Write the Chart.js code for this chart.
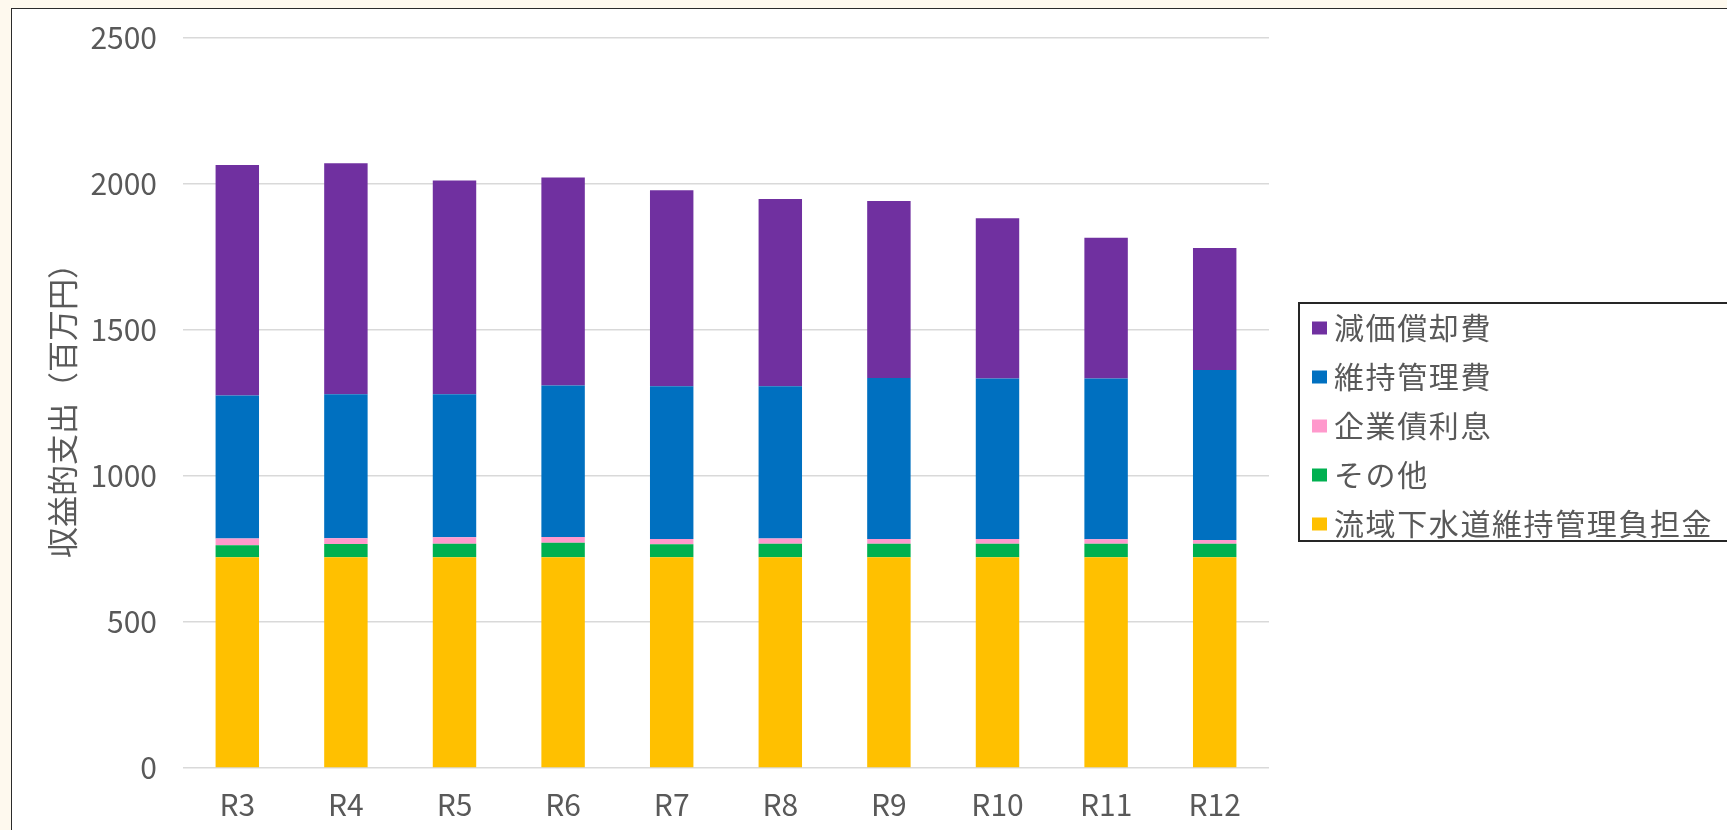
<!DOCTYPE html>
<html><head><meta charset="utf-8">
<script src="https://cdn.jsdelivr.net/npm/chart.js@4/dist/chart.umd.min.js"></script>
<style>
html,body{margin:0;padding:0;background:#FEF9EE;width:1727px;height:830px;overflow:hidden;}
#frame{position:absolute;left:11px;top:8px;width:1780px;height:900px;background:#fff;border:1.5px solid #2b2b2b;}
#c{position:absolute;left:0;top:0;}
</style></head><body>
<div id="frame"></div>
<canvas id="c" width="1727" height="830"></canvas>
<script>
const categories = ['R3','R4','R5','R6','R7','R8','R9','R10','R11','R12'];
const ryuikiFutan = [722,722,722,722,722,722,722,722,722,722];   // 流域下水道維持管理負担金
const sonota      = [41,45,46,49,44,46,46,46,46,46];             // その他
const kigyosaiRisoku = [23,20,22,20,18,18,16,16,15,13];          // 企業債利息
const ijiKanri    = [490,493,490,519,523,521,552,550,551,582];   // 維持管理費
const genkaShokyaku = [789,791,732,712,672,642,606,549,482,418]; // 減価償却費
const yTicks = [0,500,1000,1500,2000,2500];
const yTickLabels = ['0','500','1000','1500','2000','2500'];

const FONT = '"Noto Sans CJK JP", "Noto Sans", sans-serif';
const TXT = '#595959';

const legendTweak = {
  id: 'legendTweak',
  beforeLayout(chart) {
    const lg = chart.legend;
    if (lg && !lg._tw) {
      lg._tw = true;
      const fit0 = lg.fit;
      lg.fit = function () { fit0.call(this); this.width = 458; };
      const draw0 = lg.draw;
      lg.draw = function (a) {
        const ctx = this.ctx;
        ctx.save(); ctx.letterSpacing = '1.6px';
        const ft = ctx.fillText;
        ctx.fillText = function (t, x, y, m) { return m === undefined ? ft.call(ctx, t, x - 8, y) : ft.call(ctx, t, x - 8, y, m); };
        try { draw0.call(this, a); } finally { ctx.fillText = ft; ctx.restore(); }
      };
    }
  },
  afterLayout(chart) {
    const lg = chart.legend;
    lg.left += 24; lg.right += 24;
    lg.top = 280; lg.bottom = 572;
  },
  afterDraw(chart) {
    const lg = chart.legend, ctx = chart.ctx;
    ctx.save();
    ctx.strokeStyle = '#262626';
    ctx.lineWidth = 2;
    ctx.strokeRect(lg.left + 6, 303, 600, 238);
    ctx.restore();
  }
};

function draw() {
  Chart.defaults.font.family = FONT;
  Chart.defaults.color = TXT;
  new Chart(document.getElementById('c'), {
    type: 'bar',
    data: {
      labels: categories,
      datasets: [
        { label: '流域下水道維持管理負担金', data: ryuikiFutan, backgroundColor: '#FFC000' },
        { label: 'その他', data: sonota, backgroundColor: '#00B050' },
        { label: '企業債利息', data: kigyosaiRisoku, backgroundColor: '#FF99CC' },
        { label: '維持管理費', data: ijiKanri, backgroundColor: '#0070C0' },
        { label: '減価償却費', data: genkaShokyaku, backgroundColor: '#7030A0' }
      ]
    },
    options: {
      responsive: false,
      animation: false,
      devicePixelRatio: 1,
      layout: { padding: { left: 0, top: 38, right: 0, bottom: 0 } },
      datasets: { bar: { categoryPercentage: 1, barPercentage: 0.4, borderWidth: 0 } },
      plugins: {
        legend: {
          position: 'right',
          reverse: true,
          labels: { font: { size: 30, family: FONT }, color: TXT, boxWidth: 15, boxHeight: 13, padding: 19 }
        },
        tooltip: { enabled: false },
        title: { display: false }
      },
      scales: {
        x: {
          stacked: true,
          grid: { display: false, drawTicks: false },
          border: { display: false },
          ticks: { font: { size: 30, family: FONT }, color: TXT, padding: 19 },
          afterFit: s => { s.height = 62; }
        },
        y: {
          stacked: true,
          min: 0, max: 2500,
          afterBuildTicks: s => { s.ticks = yTicks.map(v => ({ value: v })); },
          grid: { color: '#D9D9D9', lineWidth: 1.5, drawTicks: false },
          border: { display: false },
          ticks: {
            font: { size: 30, family: FONT }, color: TXT, padding: 26,
            callback: (v) => { const i = yTicks.indexOf(v); return i >= 0 ? yTickLabels[i] : String(v); }
          },
          title: { display: true, text: '収益的支出（百万円）', font: { size: 31, family: FONT }, color: TXT, padding: { top: 44, bottom: 0 } },
          afterFit: s => { s.width = 183; s.paddingTop = 0; s.paddingBottom = 0; }
        }
      }
    },
    plugins: [legendTweak]
  });
}
if (document.fonts && document.fonts.load) {
  Promise.all([document.fonts.load('30px "Noto Sans CJK JP"')]).then(draw, draw);
} else { draw(); }
</script>
</body></html>
